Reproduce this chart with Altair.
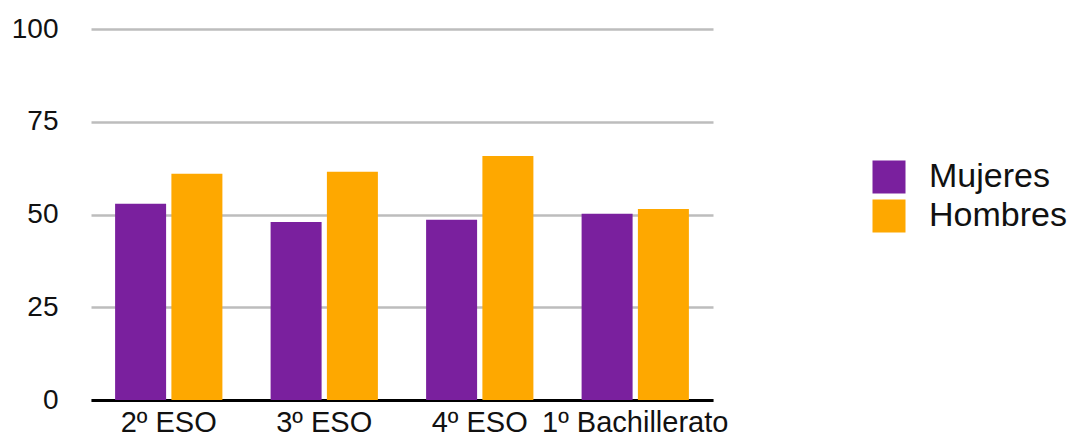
import altair as alt
import pandas as pd

# Grupos de curso y porcentajes por sexo
cursos = ["2º ESO", "3º ESO", "4º ESO", "1º Bachillerato"]
mujeres = [52.9, 48.0, 48.6, 50.2]
hombres = [61.0, 61.5, 65.8, 51.5]
series = ["Mujeres", "Hombres"]
colores = ["#7a209e", "#fea800"]

rows = []
for i, c in enumerate(cursos):
    rows.append({"curso": c, "sexo": "Mujeres", "valor": mujeres[i]})
    rows.append({"curso": c, "sexo": "Hombres", "valor": hombres[i]})
df = pd.DataFrame(rows)

FONT = "Liberation Sans"

chart = (
    alt.Chart(df)
    .mark_bar()
    .encode(
        x=alt.X(
            "curso:N",
            sort=cursos,
            title=None,
            scale=alt.Scale(paddingInner=0.31, paddingOuter=0.155),
            axis=alt.Axis(
                labelAngle=0,
                labelFontSize=29,
                labelFont=FONT,
                labelColor="#111111",
                labelPadding=8,
                labelLimit=400,
                ticks=False,
                domainColor="#000000",
                domainWidth=3,
                grid=False,
            ),
        ),
        xOffset=alt.XOffset(
            "sexo:N", sort=series, scale=alt.Scale(paddingInner=0.094, paddingOuter=0)
        ),
        y=alt.Y(
            "valor:Q",
            title=None,
            scale=alt.Scale(domain=[0, 100], nice=False),
            axis=alt.Axis(
                values=[0, 25, 50, 75, 100],
                labelFontSize=28,
                labelFont=FONT,
                labelColor="#111111",
                labelPadding=33,
                ticks=False,
                domain=False,
                gridColor="#bdbdbd",
                gridWidth=2.5,
            ),
        ),
        color=alt.Color(
            "sexo:N",
            sort=series,
            scale=alt.Scale(domain=series, range=colores),
            legend=alt.Legend(
                title=None,
                orient="none",
                legendX=781,
                legendY=131,
                symbolType="square",
                symbolSize=1089,
                symbolStrokeWidth=0,
                symbolOpacity=1,
                labelFontSize=34,
                labelFont=FONT,
                labelColor="#111111",
                labelOffset=23,
                rowPadding=5,
                labelLimit=400,
            ),
        ),
    )
    .properties(
        width=622,
        height=371,
        padding={"left": 91, "top": 29, "right": 356, "bottom": 37},
        autosize=alt.AutoSizeParams(type="none"),
        background="#ffffff",
    )
    .configure_view(strokeWidth=0, stroke="transparent")
)

chart.save("out.html", embed_options={"renderer": "svg", "actions": False})
